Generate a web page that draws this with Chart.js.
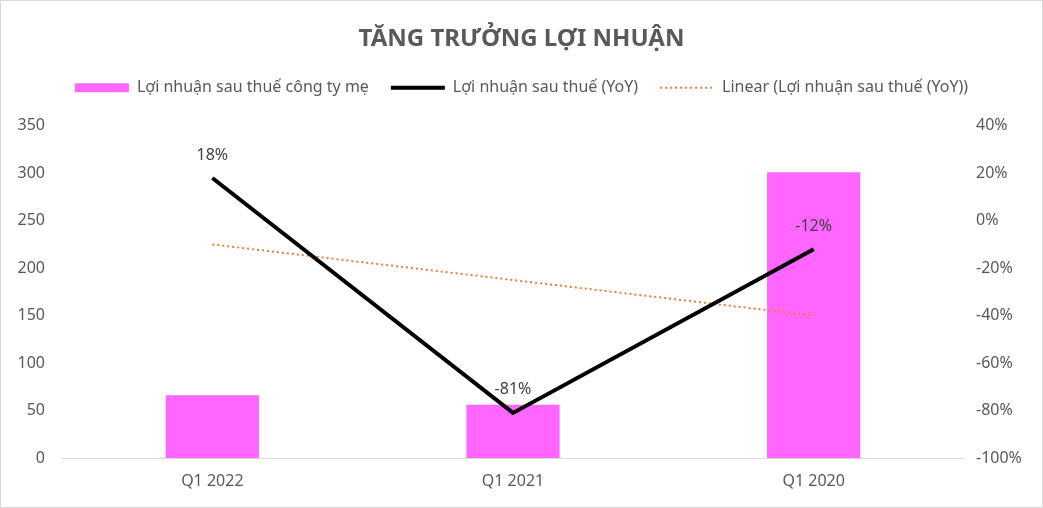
<!DOCTYPE html>
<html>
<head>
<meta charset="utf-8">
<script src="https://cdn.jsdelivr.net/npm/chart.js@4"></script>
<style>
  html, body { margin: 0; padding: 0; background: #fff; }
  #wrap { width: 1043px; height: 508px; box-sizing: border-box; border: 1px solid #d9d9d9; }
  canvas { display: block; }
</style>
</head>
<body>
<div id="wrap"><canvas id="profitChart" width="1041" height="506"></canvas></div>
<script>
// Data
const quarters = ["Q1 2022", "Q1 2021", "Q1 2020"];
const profitParent = [66, 56, 301];      // Lợi nhuận sau thuế công ty mẹ
const profitYoY = [18, -81, -12];        // Lợi nhuận sau thuế (YoY), %
const trendYoY = [-10, -25, -40];        // Linear trendline, %

const textColor = "#595959";
const fontFamily = "'Noto Sans', 'DejaVu Sans', sans-serif";

// labels over the YoY points
const pointLabels = {
  id: "pointLabels",
  afterInit(chart) {
    // leave some room under the legend
    const lg = chart.legend;
    const origFit = lg.fit.bind(lg);
    lg.fit = function () { origFit(); this.height += 20; };
  },
  afterDatasetsDraw(chart) {
    const meta = chart.getDatasetMeta(1);
    const ctx = chart.ctx;
    ctx.save();
    ctx.font = "16px " + fontFamily;
    ctx.fillStyle = "#404040";
    ctx.textAlign = "center";
    ctx.textBaseline = "middle";
    meta.data.forEach((pt, i) => {
      ctx.fillText(profitYoY[i] + "%", pt.x, pt.y - 23);
    });
    ctx.restore();
  }
};

const ctx = document.getElementById("profitChart").getContext("2d");
new Chart(ctx, {
  data: {
    labels: quarters,
    datasets: [
      {
        type: "bar",
        label: "Lợi nhuận sau thuế công ty mẹ",
        data: profitParent,
        backgroundColor: "#FF66FF",
        barPercentage: 0.31,
        categoryPercentage: 1,
        yAxisID: "y",
        order: 3
      },
      {
        type: "line",
        label: "Lợi nhuận sau thuế (YoY)",
        data: profitYoY,
        borderColor: "#000000",
        backgroundColor: "#000000",
        borderWidth: 4,
        pointRadius: 0,
        tension: 0,
        yAxisID: "y1",
        order: 1
      },
      {
        type: "line",
        label: "Linear (Lợi nhuận sau thuế (YoY))",
        data: trendYoY,
        borderColor: "#ED7D31",
        backgroundColor: "#ED7D31",
        borderWidth: 2,
        borderDash: [2, 3],
        pointRadius: 0,
        yAxisID: "y1",
        order: 2
      }
    ]
  },
  options: {
    responsive: false,
    animation: false,
    layout: { padding: 0 },
    plugins: {
      title: {
        display: true,
        text: "TĂNG TRƯỞNG LỢI NHUẬN",
        color: textColor,
        font: { family: fontFamily, size: 24, weight: "bold" },
        padding: { top: 24, bottom: 4 }
      },
      legend: {
        display: true,
        labels: {
          color: textColor,
          font: { family: fontFamily, size: 16 },
          usePointStyle: true,
          pointStyleWidth: 54,
          boxHeight: 9,
          padding: 22,
          sort: (a, b) => a.datasetIndex - b.datasetIndex,
          generateLabels(chart) {
            const items = Chart.defaults.plugins.legend.labels.generateLabels(chart);
            items.forEach(it => {
              it.pointStyle = it.datasetIndex === 0 ? "rect" : "line";
              if (it.datasetIndex === 2) it.lineDash = [2, 3];
            });
            return items;
          }
        }
      },
      tooltip: { enabled: false }
    },
    scales: {
      x: {
        grid: { display: false, drawTicks: false },
        border: { display: true, color: "#d9d9d9", width: 1 },
        ticks: { color: textColor, font: { family: fontFamily, size: 16 }, padding: 14 },
        afterFit(axis) { axis.height = 49; }
      },
      y: {
        position: "left",
        min: 0,
        max: 350,
        grid: { display: false, drawTicks: false },
        border: { display: false },
        ticks: { stepSize: 50, color: textColor, font: { family: fontFamily, size: 16 }, padding: 17 },
        afterFit(axis) { axis.width = 61; }
      },
      y1: {
        position: "right",
        min: -100,
        max: 40,
        grid: { display: false, drawTicks: false },
        border: { display: false },
        ticks: {
          stepSize: 20,
          color: textColor,
          font: { family: fontFamily, size: 16 },
          padding: 12,
          callback: v => v + "%"
        },
        afterFit(axis) { axis.width = 78; }
      }
    }
  },
  plugins: [pointLabels]
});
</script>
</body>
</html>
